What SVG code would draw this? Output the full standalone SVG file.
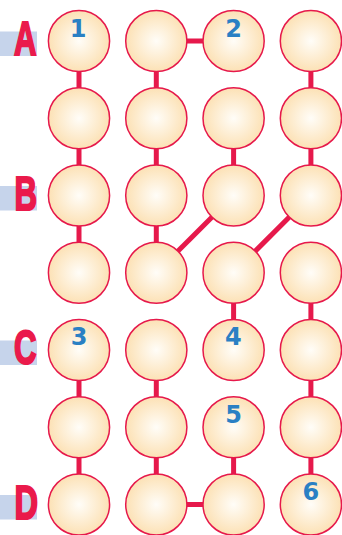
<svg xmlns="http://www.w3.org/2000/svg" width="342" height="535" viewBox="0 0 342 535">
<defs>
<radialGradient id="g" cx="50%" cy="50%" r="50%">
<stop offset="0%" stop-color="#fffdf8"/>
<stop offset="100%" stop-color="#fce1b5"/>
</radialGradient>
</defs>
<style>
.n{fill:url(#g);stroke:#e6194b;stroke-width:1.5}
.c{stroke:#e6194b;stroke-width:5;fill:none}
.num{font-family:"DejaVu Sans",sans-serif;font-weight:bold;font-size:24px;fill:#2a80c4;text-anchor:middle}
.lab{font-family:"Liberation Sans",Arial,sans-serif;font-weight:bold;font-size:49px;fill:#ea1a4b;stroke:#ea1a4b;stroke-width:2.2;stroke-linejoin:miter}
.band{fill:#c6d4eb}
</style>
<g id="labels">
<g id="label-A"><rect class="band" x="0" y="31.5" width="37" height="24.5"/><text class="lab" x="14" y="55" textLength="22.5" lengthAdjust="spacingAndGlyphs">A</text></g>
<g id="label-B"><rect class="band" x="0" y="186" width="37" height="24.5"/><text class="lab" x="14.5" y="209.5" textLength="22.5" lengthAdjust="spacingAndGlyphs">B</text></g>
<g id="label-C"><rect class="band" x="0" y="340.5" width="37" height="24.5"/><text class="lab" x="14" y="364" textLength="22.5" lengthAdjust="spacingAndGlyphs">C</text></g>
<g id="label-D"><rect class="band" x="0" y="495" width="37" height="24.5"/><text class="lab" x="14.5" y="518.5" textLength="23.5" lengthAdjust="spacingAndGlyphs">D</text></g>
</g>
<g id="connectors">
<line class="c" x1="156.3" y1="41" x2="233.6" y2="41"/>
<line class="c" x1="79" y1="41" x2="79" y2="118.25"/>
<line class="c" x1="156.3" y1="41" x2="156.3" y2="118.25"/>
<line class="c" x1="310.9" y1="41" x2="310.9" y2="118.25"/>
<line class="c" x1="79" y1="118.25" x2="79" y2="195.5"/>
<line class="c" x1="156.3" y1="118.25" x2="156.3" y2="195.5"/>
<line class="c" x1="233.6" y1="118.25" x2="233.6" y2="195.5"/>
<line class="c" x1="310.9" y1="118.25" x2="310.9" y2="195.5"/>
<line class="c" x1="79" y1="195.5" x2="79" y2="272.75"/>
<line class="c" x1="156.3" y1="195.5" x2="156.3" y2="272.75"/>
<line class="c" x1="156.3" y1="272.75" x2="233.6" y2="195.5"/>
<line class="c" x1="233.6" y1="272.75" x2="310.9" y2="195.5"/>
<line class="c" x1="233.6" y1="272.75" x2="233.6" y2="350"/>
<line class="c" x1="310.9" y1="272.75" x2="310.9" y2="350"/>
<line class="c" x1="79" y1="350" x2="79" y2="427.25"/>
<line class="c" x1="156.3" y1="350" x2="156.3" y2="427.25"/>
<line class="c" x1="310.9" y1="350" x2="310.9" y2="427.25"/>
<line class="c" x1="79" y1="427.25" x2="79" y2="504.5"/>
<line class="c" x1="156.3" y1="427.25" x2="156.3" y2="504.5"/>
<line class="c" x1="233.6" y1="427.25" x2="233.6" y2="504.5"/>
<line class="c" x1="310.9" y1="427.25" x2="310.9" y2="504.5"/>
<line class="c" x1="156.3" y1="504.5" x2="233.6" y2="504.5"/>
</g>
<g id="nodes">
<g id="n-r1c1"><circle class="n" cx="79" cy="41" r="30.6"/><text class="num" x="78" y="36.5">1</text></g>
<g id="n-r1c2"><circle class="n" cx="156.3" cy="41" r="30.6"/></g>
<g id="n-r1c3"><circle class="n" cx="233.6" cy="41" r="30.6"/><text class="num" x="233.6" y="36.5">2</text></g>
<g id="n-r1c4"><circle class="n" cx="310.9" cy="41" r="30.6"/></g>
<g id="n-r2c1"><circle class="n" cx="79" cy="118.25" r="30.6"/></g>
<g id="n-r2c2"><circle class="n" cx="156.3" cy="118.25" r="30.6"/></g>
<g id="n-r2c3"><circle class="n" cx="233.6" cy="118.25" r="30.6"/></g>
<g id="n-r2c4"><circle class="n" cx="310.9" cy="118.25" r="30.6"/></g>
<g id="n-r3c1"><circle class="n" cx="79" cy="195.5" r="30.6"/></g>
<g id="n-r3c2"><circle class="n" cx="156.3" cy="195.5" r="30.6"/></g>
<g id="n-r3c3"><circle class="n" cx="233.6" cy="195.5" r="30.6"/></g>
<g id="n-r3c4"><circle class="n" cx="310.9" cy="195.5" r="30.6"/></g>
<g id="n-r4c1"><circle class="n" cx="79" cy="272.75" r="30.6"/></g>
<g id="n-r4c2"><circle class="n" cx="156.3" cy="272.75" r="30.6"/></g>
<g id="n-r4c3"><circle class="n" cx="233.6" cy="272.75" r="30.6"/></g>
<g id="n-r4c4"><circle class="n" cx="310.9" cy="272.75" r="30.6"/></g>
<g id="n-r5c1"><circle class="n" cx="79" cy="350" r="30.6"/><text class="num" x="79" y="345.3">3</text></g>
<g id="n-r5c2"><circle class="n" cx="156.3" cy="350" r="30.6"/></g>
<g id="n-r5c3"><circle class="n" cx="233.6" cy="350" r="30.6"/><text class="num" x="233.3" y="345.3">4</text></g>
<g id="n-r5c4"><circle class="n" cx="310.9" cy="350" r="30.6"/></g>
<g id="n-r6c1"><circle class="n" cx="79" cy="427.25" r="30.6"/></g>
<g id="n-r6c2"><circle class="n" cx="156.3" cy="427.25" r="30.6"/></g>
<g id="n-r6c3"><circle class="n" cx="233.6" cy="427.25" r="30.6"/><text class="num" x="233.6" y="422.7">5</text></g>
<g id="n-r6c4"><circle class="n" cx="310.9" cy="427.25" r="30.6"/></g>
<g id="n-r7c1"><circle class="n" cx="79" cy="504.5" r="30.6"/></g>
<g id="n-r7c2"><circle class="n" cx="156.3" cy="504.5" r="30.6"/></g>
<g id="n-r7c3"><circle class="n" cx="233.6" cy="504.5" r="30.6"/></g>
<g id="n-r7c4"><circle class="n" cx="310.9" cy="504.5" r="30.6"/><text class="num" x="310.9" y="500">6</text></g>
</g>
</svg>
